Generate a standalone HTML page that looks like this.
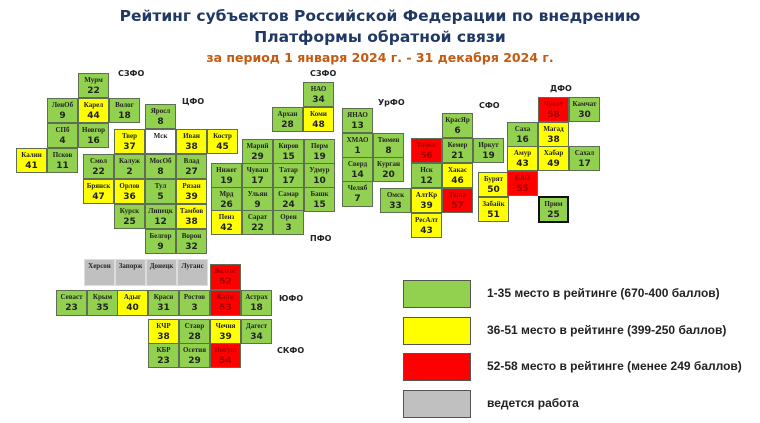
<!DOCTYPE html>
<html><head><meta charset="utf-8"><style>
body{margin:0;width:760px;height:423px;background:#fff;position:relative;overflow:hidden;font-family:"Liberation Serif","DejaVu Serif",serif}
.t{position:absolute;width:31px;height:25px;box-sizing:border-box;border:1px solid #5e6e55;text-align:center;font-weight:bold;color:#222;line-height:1}
.t b{display:block;font-size:7px;margin-top:3px;font-weight:bold;white-space:nowrap}
.t i{display:block;font-style:normal;font-size:9px;margin-top:3px;font-family:"DejaVu Sans",sans-serif;font-weight:bold}
.g{background:#92d050}.y{background:#ffff00}.r{background:#ff0000;color:#a00000}.s{background:#c0c0c0}.w{background:#fff}
.lab{position:absolute;font-size:8px;font-weight:bold;font-family:"DejaVu Sans",sans-serif;color:#222}
.h{position:absolute;left:0;width:760px;text-align:center;font-family:"DejaVu Sans",sans-serif;font-weight:bold;white-space:nowrap}
.lb{position:absolute;left:403px;width:68px;height:28px;box-sizing:border-box;border:1.5px solid #555}
.lt{position:absolute;left:487px;font-family:"Liberation Sans",sans-serif;font-weight:bold;font-size:12px;color:#222;white-space:nowrap}
</style></head><body>
<div class="h" style="top:7px;font-size:15.5px;color:#1f3864">Рейтинг субъектов Российской Федерации по внедрению</div>
<div class="h" style="top:28px;font-size:15.5px;color:#1f3864">Платформы обратной связи</div>
<div class="h" style="top:50px;font-size:12.5px;color:#c55a11">за период 1 января 2024 г. - 31 декабря 2024 г.</div>

<div class="lab" style="left:118px;top:69px">СЗФО</div>
<div class="lab" style="left:182px;top:97px">ЦФО</div>
<div class="lab" style="left:310px;top:69px">СЗФО</div>
<div class="lab" style="left:378px;top:98px">УрФО</div>
<div class="lab" style="left:479px;top:101px">СФО</div>
<div class="lab" style="left:550px;top:84px">ДФО</div>
<div class="lab" style="left:310px;top:234px">ПФО</div>
<div class="lab" style="left:279px;top:294px">ЮФО</div>
<div class="lab" style="left:277px;top:346px">СКФО</div>

<div class="t g" style="left:78px;top:73px"><b>Мурм</b><i>22</i></div>
<div class="t g" style="left:47px;top:98px"><b>ЛенОб</b><i>9</i></div>
<div class="t y" style="left:78px;top:98px"><b>Карел</b><i>44</i></div>
<div class="t g" style="left:109px;top:98px"><b>Волог</b><i>18</i></div>
<div class="t g" style="left:47px;top:123px"><b>СПб</b><i>4</i></div>
<div class="t g" style="left:78px;top:123px"><b>Новгор</b><i>16</i></div>
<div class="t y" style="left:16px;top:148px"><b>Калин</b><i>41</i></div>
<div class="t g" style="left:47px;top:148px"><b>Псков</b><i>11</i></div>

<div class="t g" style="left:145px;top:104px"><b>Яросл</b><i>8</i></div>
<div class="t y" style="left:114px;top:129px"><b>Твер</b><i>37</i></div>
<div class="t w" style="left:145px;top:129px"><b>Мск</b><i></i></div>
<div class="t y" style="left:176px;top:129px"><b>Иван</b><i>38</i></div>
<div class="t y" style="left:207px;top:129px"><b>Костр</b><i>45</i></div>
<div class="t g" style="left:83px;top:154px"><b>Смол</b><i>22</i></div>
<div class="t g" style="left:114px;top:154px"><b>Калуж</b><i>2</i></div>
<div class="t g" style="left:145px;top:154px"><b>МосОб</b><i>8</i></div>
<div class="t g" style="left:176px;top:154px"><b>Влад</b><i>27</i></div>
<div class="t y" style="left:83px;top:179px"><b>Брянск</b><i>47</i></div>
<div class="t y" style="left:114px;top:179px"><b>Орлов</b><i>36</i></div>
<div class="t g" style="left:145px;top:179px"><b>Тул</b><i>5</i></div>
<div class="t y" style="left:176px;top:179px"><b>Рязан</b><i>39</i></div>
<div class="t g" style="left:114px;top:204px"><b>Курск</b><i>25</i></div>
<div class="t g" style="left:145px;top:204px"><b>Липецк</b><i>12</i></div>
<div class="t y" style="left:176px;top:204px"><b>Тамбов</b><i>38</i></div>
<div class="t g" style="left:145px;top:229px"><b>Белгор</b><i>9</i></div>
<div class="t g" style="left:176px;top:229px"><b>Ворон</b><i>32</i></div>

<div class="t g" style="left:303px;top:82px"><b>НАО</b><i>34</i></div>
<div class="t g" style="left:272px;top:107px"><b>Архан</b><i>28</i></div>
<div class="t y" style="left:303px;top:107px"><b>Коми</b><i>48</i></div>

<div class="t g" style="left:242px;top:139px"><b>Марий</b><i>29</i></div>
<div class="t g" style="left:273px;top:139px"><b>Киров</b><i>15</i></div>
<div class="t g" style="left:304px;top:139px"><b>Перм</b><i>19</i></div>
<div class="t g" style="left:211px;top:163px"><b>Нижег</b><i>19</i></div>
<div class="t g" style="left:242px;top:163px"><b>Чуваш</b><i>17</i></div>
<div class="t g" style="left:273px;top:163px"><b>Татар</b><i>17</i></div>
<div class="t g" style="left:304px;top:163px"><b>Удмур</b><i>10</i></div>
<div class="t g" style="left:211px;top:187px"><b>Мрд</b><i>26</i></div>
<div class="t g" style="left:242px;top:187px"><b>Ульян</b><i>9</i></div>
<div class="t g" style="left:273px;top:187px"><b>Самар</b><i>24</i></div>
<div class="t g" style="left:304px;top:187px"><b>Башк</b><i>15</i></div>
<div class="t y" style="left:211px;top:210px"><b>Пенз</b><i>42</i></div>
<div class="t g" style="left:242px;top:210px"><b>Сарат</b><i>22</i></div>
<div class="t g" style="left:273px;top:210px"><b>Орен</b><i>3</i></div>

<div class="t g" style="left:342px;top:108px"><b>ЯНАО</b><i>13</i></div>
<div class="t g" style="left:342px;top:133px"><b>ХМАО</b><i>1</i></div>
<div class="t g" style="left:373px;top:133px"><b>Тюмен</b><i>8</i></div>
<div class="t g" style="left:342px;top:157px"><b>Сверд</b><i>14</i></div>
<div class="t g" style="left:373px;top:157px"><b>Курган</b><i>20</i></div>
<div class="t g" style="left:342px;top:181px;height:26px"><b>Челяб</b><i>7</i></div>

<div class="t g" style="left:442px;top:113px"><b>КрасЯр</b><i>6</i></div>
<div class="t r" style="left:411px;top:138px"><b>Томск</b><i>56</i></div>
<div class="t g" style="left:442px;top:138px"><b>Кемер</b><i>21</i></div>
<div class="t g" style="left:473px;top:138px"><b>Иркут</b><i>19</i></div>
<div class="t g" style="left:411px;top:163px"><b>Нск</b><i>12</i></div>
<div class="t y" style="left:442px;top:163px"><b>Хакас</b><i>46</i></div>
<div class="t g" style="left:380px;top:188px"><b>Омск</b><i>33</i></div>
<div class="t y" style="left:411px;top:188px"><b>АлтКр</b><i>39</i></div>
<div class="t r" style="left:442px;top:188px"><b>Тыва</b><i>57</i></div>
<div class="t y" style="left:411px;top:213px"><b>РесАлт</b><i>43</i></div>
<div class="t y" style="left:478px;top:172px"><b>Бурят</b><i>50</i></div>
<div class="t y" style="left:478px;top:197px"><b>Забайк</b><i>51</i></div>

<div class="t r" style="left:538px;top:97px"><b>Чукот</b><i>58</i></div>
<div class="t g" style="left:569px;top:97px"><b>Камчат</b><i>30</i></div>
<div class="t g" style="left:507px;top:122px"><b>Саха</b><i>16</i></div>
<div class="t y" style="left:538px;top:122px"><b>Магад</b><i>38</i></div>
<div class="t y" style="left:507px;top:146px"><b>Амур</b><i>43</i></div>
<div class="t y" style="left:538px;top:146px"><b>Хабар</b><i>49</i></div>
<div class="t g" style="left:569px;top:146px"><b>Сахал</b><i>17</i></div>
<div class="t r" style="left:507px;top:171px"><b>ЕАО</b><i>55</i></div>
<div class="t g" style="left:538px;top:196px;border:2px solid #111;height:27px"><b>Прим</b><i>25</i></div>

<div class="t s" style="left:84px;top:259px;border-color:#ddd;height:27px"><b>Херсон</b></div>
<div class="t s" style="left:115px;top:259px;border-color:#ddd;height:27px"><b>Запорж</b></div>
<div class="t s" style="left:146px;top:259px;border-color:#ddd;height:27px"><b>Донецк</b></div>
<div class="t s" style="left:177px;top:259px;border-color:#ddd;height:27px"><b>Луганс</b></div>
<div class="t r" style="left:210px;top:264px;height:26px"><b>Волгог</b><i>52</i></div>
<div class="t g" style="left:56px;top:290px;height:26px"><b>Севаст</b><i>23</i></div>
<div class="t g" style="left:87px;top:290px;height:26px"><b>Крым</b><i>35</i></div>
<div class="t y" style="left:117px;top:290px;height:26px"><b>Адыг</b><i>40</i></div>
<div class="t g" style="left:148px;top:290px;height:26px"><b>Красн</b><i>31</i></div>
<div class="t g" style="left:179px;top:290px;height:26px"><b>Ростов</b><i>3</i></div>
<div class="t r" style="left:210px;top:290px;height:26px"><b>Калм</b><i>53</i></div>
<div class="t g" style="left:241px;top:290px;height:26px"><b>Астрах</b><i>18</i></div>

<div class="t y" style="left:148px;top:319px"><b>КЧР</b><i>38</i></div>
<div class="t g" style="left:179px;top:319px"><b>Ставр</b><i>28</i></div>
<div class="t y" style="left:210px;top:319px"><b>Чечня</b><i>39</i></div>
<div class="t g" style="left:241px;top:319px"><b>Дагест</b><i>34</i></div>
<div class="t g" style="left:148px;top:343px"><b>КБР</b><i>23</i></div>
<div class="t g" style="left:179px;top:343px"><b>Осетия</b><i>29</i></div>
<div class="t r" style="left:210px;top:343px"><b>Ингуш</b><i>54</i></div>

<div class="lb" style="top:280px;background:#92d050"></div>
<div class="lb" style="top:317px;background:#ffff00"></div>
<div class="lb" style="top:353px;background:#ff0000"></div>
<div class="lb" style="top:390px;background:#c0c0c0"></div>
<div class="lt" style="top:286px">1-35 место в рейтинге (670-400 баллов)</div>
<div class="lt" style="top:323px">36-51 место в рейтинге (399-250 баллов)</div>
<div class="lt" style="top:359px">52-58 место в рейтинге (менее 249 баллов)</div>
<div class="lt" style="top:396px">ведется работа</div>
</body></html>
